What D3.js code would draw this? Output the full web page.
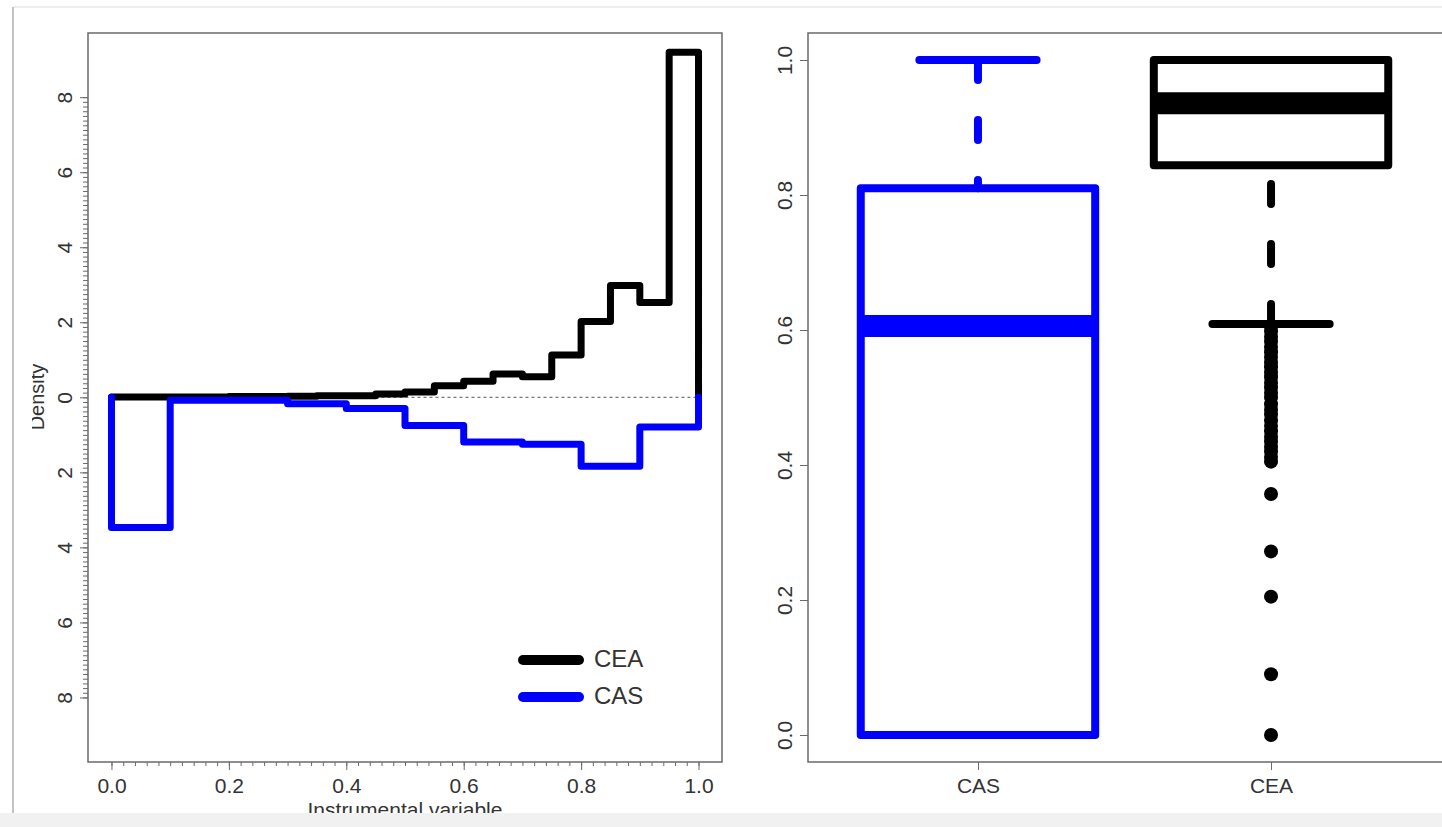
<!DOCTYPE html>
<html>
<head>
<meta charset="utf-8">
<script src="https://cdn.jsdelivr.net/npm/d3@7"></script>
<style>
  html, body { margin: 0; padding: 0; background: #fff; }
  svg { display: block; font-family: "Liberation Sans", Arial, sans-serif; }
</style>
</head>
<body>
<div id="chart"></div>
<script>
// histogram data (density), CEA in bins of 0.05, CAS in bins of 0.1
const ceaBreaks = [0, 0.05, 0.1, 0.15, 0.2, 0.25, 0.3, 0.35, 0.4, 0.45, 0.5, 0.55, 0.6, 0.65, 0.7, 0.75, 0.8, 0.85, 0.9, 0.95, 1.0];
const ceaDensity = [0.01, 0.01, 0.01, 0.01, 0.02, 0.02, 0.03, 0.04, 0.04, 0.09, 0.14, 0.31, 0.43, 0.62, 0.55, 1.13, 2.02, 2.98, 2.53, 9.2];
const casBreaks = [0, 0.1, 0.2, 0.3, 0.4, 0.5, 0.6, 0.7, 0.8, 0.9, 1.0];
const casDensity = [3.47, 0.08, 0.08, 0.17, 0.3, 0.75, 1.19, 1.25, 1.84, 0.79];

const xTicksL = [0, 0.2, 0.4, 0.6, 0.8, 1.0];
const yTicksL = [-8, -6, -4, -2, 0, 2, 4, 6, 8];

// boxplot stats
const groups = ["CAS", "CEA"];
const boxStats = [
    { name: "CAS", color: "#0000ff", lower: 0.0, q1: 0.0, median: 0.606, q3: 0.81, upper: 1.0 },
    { name: "CEA", color: "#000000", lower: 0.609, q1: 0.844, median: 0.936, q3: 1.0, upper: 1.0 }
];
const ceaOutliers = [0.605, 0.598, 0.59, 0.583, 0.575, 0.567, 0.56, 0.552, 0.545, 0.537, 0.53, 0.522,
    0.515, 0.507, 0.5, 0.49, 0.482, 0.475, 0.466, 0.458, 0.45, 0.442, 0.435, 0.427, 0.42, 0.412, 0.405,
    0.357, 0.272, 0.205, 0.09, 0.0];
const yTicksR = [0, 0.2, 0.4, 0.6, 0.8, 1.0];

const width = 1442, height = 827;
const svg = d3.select("#chart").append("svg").attr("width", width).attr("height", height);

// page frame
svg.append("rect").attr("x", 0).attr("y", 813).attr("width", width).attr("height", 14).attr("fill", "#f1f1f1");
svg.append("line").attr("x1", 13).attr("x2", width).attr("y1", 7).attr("y2", 7).attr("stroke", "#ececec").attr("stroke-width", 2);
svg.append("line").attr("x1", 13).attr("x2", 13).attr("y1", 7).attr("y2", 813).attr("stroke", "#c4c4c4").attr("stroke-width", 2);

svg.append("defs").append("clipPath").attr("id", "page")
    .append("rect").attr("x", 32).attr("y", 8).attr("width", width - 32).attr("height", 805);

const root = svg.append("g").attr("clip-path", "url(#page)");

const axisColor = "#6a6a6a", labelColor = "#333";

// ---------- left: mirrored histogram ----------
const xL = d3.scaleLinear().domain([-0.04, 1.04]).range([88, 722]);
const yL = d3.scaleLinear().domain([-9.72, 9.71]).range([762, 33]);

const left = root.append("g");

left.append("rect").attr("x", 88).attr("y", 33).attr("width", 634).attr("height", 729)
    .attr("fill", "none").attr("stroke", axisColor).attr("stroke-width", 1.5);

// minor ticks
left.append("g").attr("transform", "translate(0,762)")
    .call(d3.axisBottom(xL).tickValues(d3.range(0, 1.001, 0.02)).tickSize(4).tickFormat(""))
    .call(g => g.select(".domain").remove());
left.append("g").attr("transform", "translate(88,0)")
    .call(d3.axisLeft(yL).tickValues(d3.range(-8, 8.01, 0.125)).tickSize(5).tickFormat(""))
    .call(g => g.select(".domain").remove());

const xAxisL = left.append("g").attr("transform", "translate(0,762)")
    .call(d3.axisBottom(xL).tickValues(xTicksL).tickSize(8).tickPadding(8).tickFormat(d3.format(".1f")));
xAxisL.select(".domain").remove();

const yAxisL = left.append("g").attr("transform", "translate(88,0)")
    .call(d3.axisLeft(yL).tickValues(yTicksL).tickSize(8).tickFormat(d => Math.abs(d)));
yAxisL.select(".domain").remove();
yAxisL.selectAll("text").attr("x", null).attr("dy", null)
    .attr("text-anchor", "middle").attr("transform", "translate(-16,0) rotate(-90)");

left.selectAll(".tick line").attr("stroke", axisColor);
left.selectAll(".tick text").attr("font-size", 21).attr("fill", labelColor).attr("font-family", "Liberation Sans, Arial, sans-serif");

left.append("text").attr("transform", "translate(44,397) rotate(-90)")
    .attr("text-anchor", "middle").attr("font-size", 20).attr("fill", labelColor).text("Density");
left.append("text").attr("x", 405).attr("y", 817)
    .attr("text-anchor", "middle").attr("font-size", 21).attr("fill", labelColor).text("Instrumental variable");

// zero line
left.append("line").attr("x1", xL(0)).attr("x2", xL(1)).attr("y1", yL(0)).attr("y2", yL(0))
    .attr("stroke", "#555").attr("stroke-width", 1).attr("stroke-dasharray", "3,3");

function stepPoints(breaks, dens, sign) {
    const pts = [[breaks[0], 0]];
    dens.forEach((d, i) => {
        pts.push([breaks[i], sign * d]);
        pts.push([breaks[i + 1], sign * d]);
    });
    pts.push([breaks[breaks.length - 1], 0]);
    return pts;
}
const stepLine = d3.line().x(d => xL(d[0])).y(d => yL(d[1]));

left.append("path").attr("d", stepLine(stepPoints(ceaBreaks, ceaDensity, 1)))
    .attr("fill", "none").attr("stroke", "#000").attr("stroke-width", 7)
    .attr("stroke-linejoin", "round").attr("stroke-linecap", "round");
left.append("path").attr("d", stepLine(stepPoints(casBreaks, casDensity, -1)))
    .attr("fill", "none").attr("stroke", "#0000ff").attr("stroke-width", 7)
    .attr("stroke-linejoin", "round").attr("stroke-linecap", "round");

// legend
const legendItems = [{ name: "CEA", color: "#000" }, { name: "CAS", color: "#0000ff" }];
const legend = left.selectAll(".legend").data(legendItems).enter().append("g")
    .attr("transform", (d, i) => `translate(0,${660 + i * 37})`);
legend.append("line").attr("x1", 523).attr("x2", 579).attr("y1", 0).attr("y2", 0)
    .attr("stroke", d => d.color).attr("stroke-width", 10).attr("stroke-linecap", "round");
legend.append("text").attr("x", 594).attr("y", 7).attr("font-size", 24).attr("fill", labelColor).text(d => d.name);

// ---------- right: boxplots ----------
const xR = d3.scaleLinear().domain([0.42, 2.58]).range([808, 1441]);
const yR = d3.scaleLinear().domain([-0.04, 1.04]).range([762, 33]);

const right = root.append("g");
right.append("path")
    .attr("d", `M1442,33H808V762H1442`)
    .attr("fill", "none").attr("stroke", axisColor).attr("stroke-width", 1.5);

const yAxisR = right.append("g").attr("transform", "translate(808,0)")
    .call(d3.axisLeft(yR).tickValues(yTicksR).tickSize(8).tickFormat(d3.format(".1f")));
yAxisR.select(".domain").remove();
yAxisR.selectAll("text").attr("x", null).attr("dy", null)
    .attr("text-anchor", "middle").attr("transform", "translate(-16,0) rotate(-90)");

const xAxisR = right.append("g").attr("transform", "translate(0,762)")
    .call(d3.axisBottom(xR).tickValues([1, 2]).tickSize(8).tickPadding(8).tickFormat((d, i) => groups[i]));
xAxisR.select(".domain").remove();

right.selectAll(".tick line").attr("stroke", axisColor);
right.selectAll(".tick text").attr("font-size", 21).attr("fill", labelColor).attr("font-family", "Liberation Sans, Arial, sans-serif");

const boxW = 0.8, lw = 8;
boxStats.forEach((s, i) => {
    const cx = xR(i + 1);
    const g = right.append("g");
    const x0 = xR(i + 1 - boxW / 2), x1 = xR(i + 1 + boxW / 2);
    const c0 = xR(i + 1 - boxW / 4), c1 = xR(i + 1 + boxW / 4);
    // whiskers, drawn from the end toward the box
    [[s.upper, s.q3], [s.lower, s.q1]].forEach(([end, edge]) => {
        g.append("line").attr("x1", cx).attr("x2", cx).attr("y1", yR(end)).attr("y2", yR(edge))
            .attr("stroke", s.color).attr("stroke-width", lw)
            .attr("stroke-dasharray", "20,40").attr("stroke-linecap", "round");
        g.append("line").attr("x1", c0).attr("x2", c1).attr("y1", yR(end)).attr("y2", yR(end))
            .attr("stroke", s.color).attr("stroke-width", lw).attr("stroke-linecap", "round");
    });
    g.append("rect").attr("x", x0).attr("y", yR(s.q3)).attr("width", x1 - x0).attr("height", yR(s.q1) - yR(s.q3))
        .attr("fill", "none").attr("stroke", s.color).attr("stroke-width", lw).attr("stroke-linejoin", "round");
    g.append("line").attr("x1", x0).attr("x2", x1).attr("y1", yR(s.median)).attr("y2", yR(s.median))
        .attr("stroke", s.color).attr("stroke-width", 22);
});

right.selectAll(".outlier").data(ceaOutliers).enter().append("circle")
    .attr("cx", xR(2)).attr("cy", d => yR(d)).attr("r", 7).attr("fill", "#000");
</script>
</body>
</html>
